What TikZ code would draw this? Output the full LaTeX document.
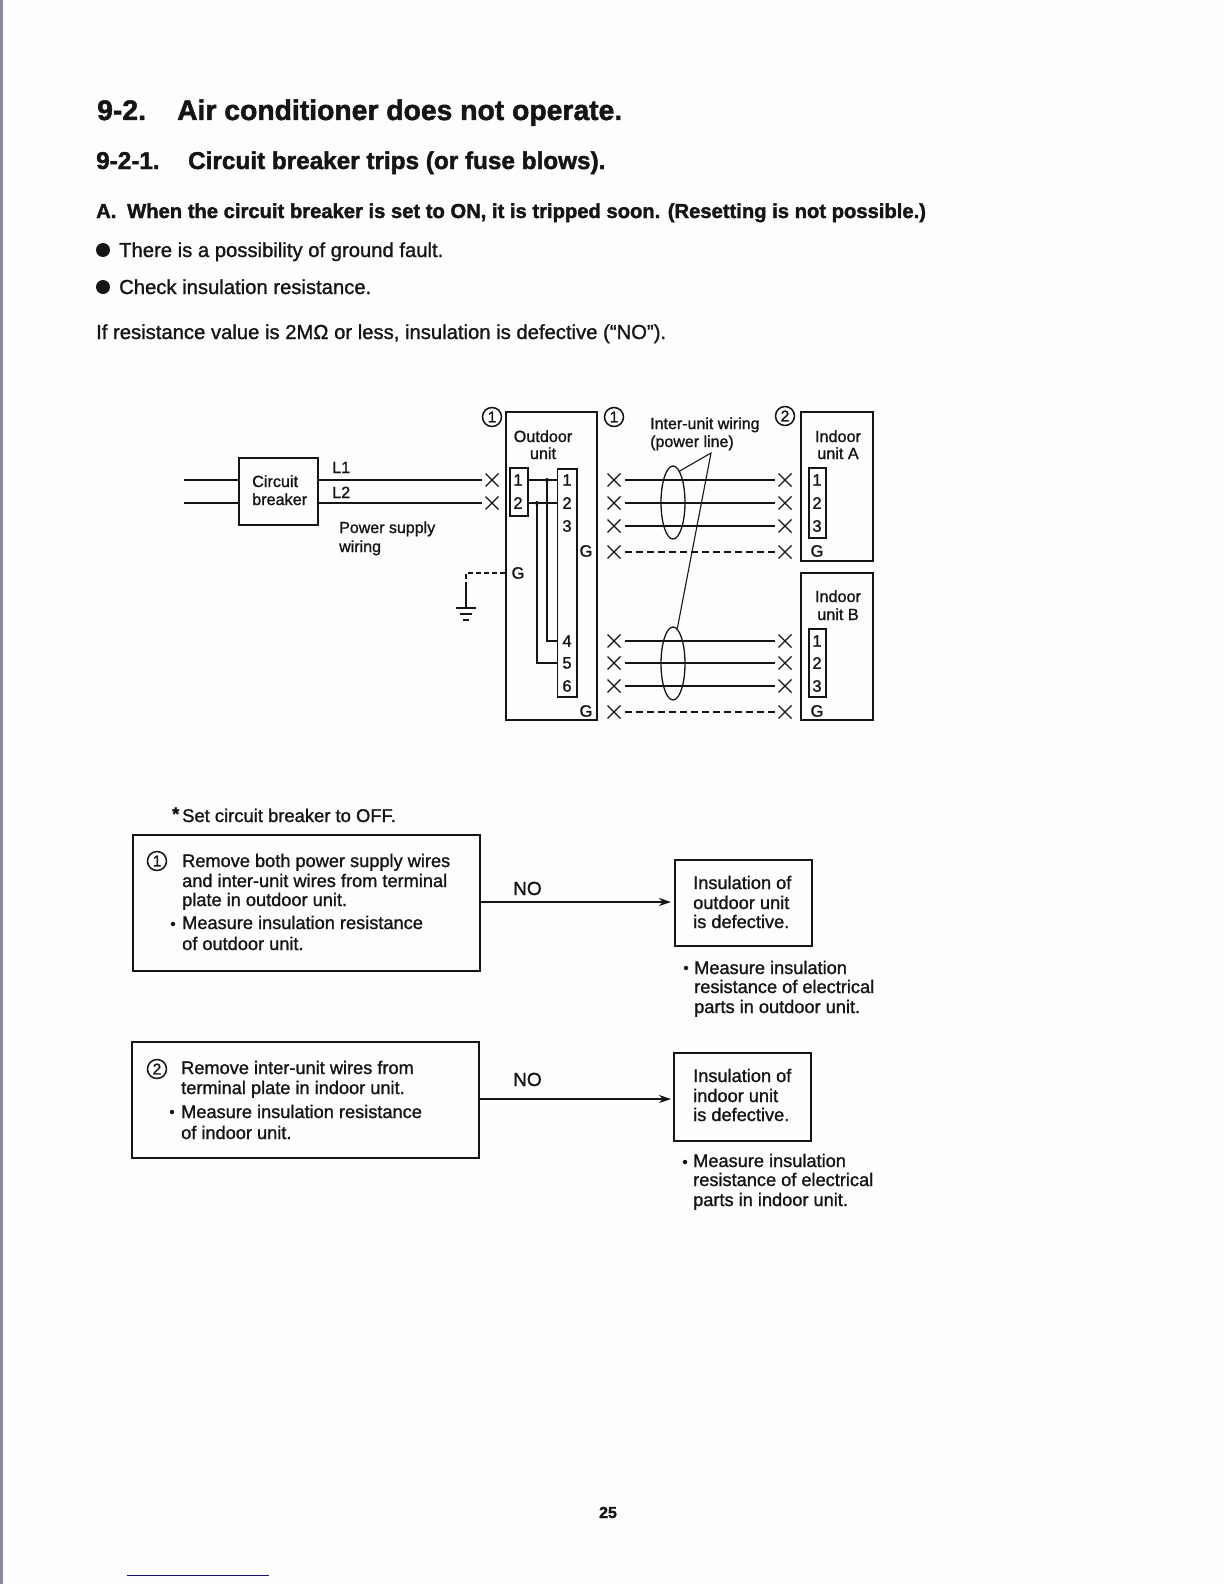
\documentclass[tikz,border=0pt]{standalone}
\usepackage{fontspec}
\setmainfont[FakeBold=1.2]{Liberation Sans}
\newfontfamily\hfont[BoldFeatures={FakeBold=1.7}]{Liberation Sans}
\usetikzlibrary{arrows.meta,shapes.misc,shapes.geometric}
\definecolor{paper}{HTML}{FEFDFE}
\definecolor{ink}{HTML}{151515}
\definecolor{strip}{HTML}{8C88A0}
\definecolor{navy}{HTML}{14147A}
\tikzset{
 txt/.style={anchor=base west,inner sep=0pt,text=ink,font=\fontsize{#1}{#1}\selectfont},
 txt/.default=18.2,
 ctxt/.style={anchor=base,inner sep=0pt,text=ink,font=\fontsize{16.2}{16.2}\selectfont},
 num/.style={inner sep=0pt,text=ink,font=\fontsize{16.5}{16.5}\selectfont},
 head/.style={anchor=base west,inner sep=0pt,text=ink,font=\hfont\bfseries\fontsize{#1}{#1}\selectfont},
 wire/.style={draw=ink,line width=1.1pt},
 dashw/.style={draw=ink,line width=1.1pt,dash pattern=on 7pt off 4pt},
 gapl/.style={shorten <=4pt,shorten >=4pt},
 gapr/.style={shorten >=4pt},
 boxa/.style={draw=ink,line width=1.3pt},
 boxb/.style={draw=ink,line width=2.2pt},
 xmark/.style={cross out,draw=ink,line width=1.3pt,minimum size=13pt,inner sep=0pt,outer sep=0pt},
 dot/.style={circle,fill=ink,inner sep=0pt,minimum size=4pt},
 bull/.style={circle,fill=ink,inner sep=0pt,minimum size=#1},
 circ/.style={circle,draw=ink,line width=1.5pt,inner sep=0pt,minimum size=19pt,text=ink,font=\fontsize{15.5}{15.5}\selectfont},
 arr/.style={draw=ink,line width=1.1pt,-{Stealth[length=12pt,width=8pt]}},
 ring/.style={draw=ink,line width=1.3pt,ellipse,inner sep=0pt,minimum width=24pt,minimum height=73pt},
}
\begin{document}
\begin{tikzpicture}[x=1pt,y=-1pt]
\useasboundingbox (0,0) rectangle (1224,1584);
\fill[paper] (0,0) rectangle (1224,1584);
\fill[strip] (0,0) rectangle (3,1584);
\draw[navy,line width=1pt] (127,1575) -- (269,1575);
% headings
\node[head=28.3] (h1a) at (97,120) {9-2.};
\node[head=28.3] (h1b) at (177,120) {Air conditioner does not operate.};
\node[head=24.3] (h2a) at (96,169) {9-2-1.};
\node[head=24.3] (h2b) at (188,169) {Circuit breaker trips (or fuse blows).};
\node[head=20.2] (h3a) at (96,218) {A.};
\node[head=20.2] (h3b) at (127,218) {When the circuit breaker is set to ON, it is tripped soon. (Resetting is not possible.)};
\node[bull=14pt] (b1) at (103,250) {};
\node[txt=20.25] (l1) at (119,257) {There is a possibility of ground fault.};
\node[bull=14pt] (b2) at (103,287) {};
\node[txt=20.25] (l2) at (119,294) {Check insulation resistance.};
\node[txt=20.25] (l3) at (96,339) {If resistance value is 2MΩ or less, insulation is defective (“NO”).};
% wiring boxes
\node[boxa,minimum width=79pt,minimum height=67pt] (cb) at (278.5,491.5) {};
\node[boxa,minimum width=91pt,minimum height=308pt] (odu) at (551.5,566) {};
\node[boxa,minimum width=72pt,minimum height=149pt] (ia) at (837,486.5) {};
\node[boxa,minimum width=72pt,minimum height=147pt] (ib) at (837,646.5) {};
\node[boxa,minimum width=18pt,minimum height=48pt] (t12) at (519,492) {};
\node[boxa,minimum width=19.5pt,minimum height=228pt] (t16) at (567.2,583) {};
\node[boxa,minimum width=17pt,minimum height=70pt] (ta) at (817.5,503) {};
\node[boxa,minimum width=17pt,minimum height=68pt] (tb) at (817.5,663) {};
\node[txt=16.2] (cbt1) at (252,487) {Circuit};
\node[txt=16.2] (cbt2) at (252,505) {breaker};
\node[txt=16.2] (L1) at (332,473) {L1};
\node[txt=16.2] (L2) at (332,498) {L2};
\node[txt=16] (ps1) at (339,533) {Power supply};
\node[txt=16] (ps2) at (339,552) {wiring};
\node[ctxt] (od1) at (543,442) {Outdoor};
\node[ctxt] (od2) at (543,459) {unit};
\node[txt=16] (iw1) at (650,429) {Inter-unit wiring};
\node[txt=16] (iw2) at (650,447) {(power line)};
\node[ctxt] (ia1) at (838,442) {Indoor};
\node[ctxt] (ia2) at (838,459) {unit A};
\node[ctxt] (ib1) at (838,602) {Indoor};
\node[ctxt] (ib2) at (838,620) {unit B};
\node[circ] (c1) at (492,417) {1};
\node[circ] (c2) at (614,417) {1};
\node[circ] (c3) at (785,416) {2};
% terminal numbers
\node[num] (p1) at (518,480) {1};
\node[num] (p2) at (518,503) {2};
\node[num] (q1) at (567,480) {1};
\node[num] (q2) at (567,503) {2};
\node[num] (q3) at (567,526) {3};
\node[num] (q4) at (567,641) {4};
\node[num] (q5) at (567,663) {5};
\node[num] (q6) at (567,686) {6};
\node[num] (ga) at (586,551) {G};
\node[num] (gb) at (586,711) {G};
\node[num] (gc) at (518,573) {G};
\node[num] (ra1) at (817,480) {1};
\node[num] (ra2) at (817,503) {2};
\node[num] (ra3) at (817,526) {3};
\node[num] (rag) at (817,551) {G};
\node[num] (rb1) at (817,641) {1};
\node[num] (rb2) at (817,663) {2};
\node[num] (rb3) at (817,686) {3};
\node[num] (rbg) at (817,711) {G};
% X marks
\node[xmark] (xl1) at (492,480) {};
\node[xmark] (xl2) at (492,503) {};
\foreach \n/\y in {1/480,2/503,3/526,4/552,5/641,6/663,7/686,8/712}{
  \node[xmark] (xa\n) at (614,\y) {};
  \node[xmark] (xb\n) at (785,\y) {};
}
% power lines
\coordinate (i1) at (184,480); \coordinate (i2) at (184,503);
\draw[wire] (i1) -- (cb.west |- i1);
\draw[wire] (i2) -- (cb.west |- i2);
\draw[wire,gapr] (cb.east |- xl1) -- (xl1.west);
\draw[wire,gapr] (cb.east |- xl2) -- (xl2.west);
% inner links
\node[dot] (j1) at (547,480) {};
\node[dot] (j2) at (537,503) {};
\draw[wire] (t12.east |- j1) -- (t16.west |- j1);
\draw[wire] (t12.east |- j2) -- (t16.west |- j2);
\draw[wire] (j1.center) -- (547,641) -- (t16.west |- q4);
\draw[wire] (j2.center) -- (537,663) -- (t16.west |- q5);
% inter-unit
\foreach \n in {1,2,3,5,6,7}{ \draw[wire,gapl] (xa\n.east) -- (xb\n.west); }
\foreach \n in {4,8}{ \draw[dashw,gapl] (xa\n.east) -- (xb\n.west); }
\node[ring] (e1) at (673,502.5) {};
\node[ring] (e2) at (673,663.5) {};
\coordinate (ld) at (711,453);
\draw[wire] (e1.78) -- (ld) -- (e2.83);
% ground
\coordinate (gk) at (466,573); \coordinate (gs) at (466,587); \coordinate (gt) at (466,608);
\draw[dashw,dash pattern=on 5pt off 3pt] (odu.west |- gk) -- (gk) -- (gs);
\draw[wire] (gs) -- (gt);
\draw[wire] (456,608) -- (476,608);
\draw[wire] (460,614) -- (472,614);
\draw[wire] (463,620) -- (469,620);
% procedure
\node[head=18] (st0) at (172,820) {*};
\node[txt=18.4] (st1) at (182,822) {Set circuit breaker to OFF.};
\node[boxb,minimum width=347pt,minimum height=136pt] (p1b) at (306.5,903) {};
\node[boxb,minimum width=347pt,minimum height=116pt] (p2b) at (305.5,1100) {};
\node[circ] (pc1) at (157,861) {1};
\node[circ] (pc2) at (157,1069) {2};
\node[txt] (a1) at (182,867) {Remove both power supply wires};
\node[txt] (a2) at (182,887) {and inter-unit wires from terminal};
\node[txt] (a3) at (182,906) {plate in outdoor unit.};
\node[bull=4.5pt] (a4b) at (173,924) {};
\node[txt] (a4) at (182,929) {Measure insulation resistance};
\node[txt] (a5) at (182,950) {of outdoor unit.};
\node[txt] (d1) at (181,1074) {Remove inter-unit wires from};
\node[txt] (d2) at (181,1094) {terminal plate in indoor unit.};
\node[bull=4.5pt] (d3b) at (172,1112) {};
\node[txt] (d3) at (181,1118) {Measure insulation resistance};
\node[txt] (d4) at (181,1139) {of indoor unit.};
\node[boxa,minimum width=137pt,minimum height=86pt] (r1) at (743.5,903) {};
\node[boxa,minimum width=137pt,minimum height=88pt] (r2) at (742.5,1097) {};
\node[txt] (e1a) at (693,889) {Insulation of};
\node[txt] (e1b) at (693,909) {outdoor unit};
\node[txt] (e1c) at (693,928) {is defective.};
\node[txt] (e2a) at (693,1082) {Insulation of};
\node[txt] (e2b) at (693,1102) {indoor unit};
\node[txt] (e2c) at (693,1121) {is defective.};
\node[bull=4.5pt] (m1b) at (686,968) {};
\node[txt] (m1a) at (694,974) {Measure insulation};
\node[txt] (m1c) at (694,993) {resistance of electrical};
\node[txt] (m1d) at (694,1013) {parts in outdoor unit.};
\node[bull=4.5pt] (m2b) at (685,1162) {};
\node[txt] (m2a) at (693,1167) {Measure insulation};
\node[txt] (m2c) at (693,1186) {resistance of electrical};
\node[txt] (m2d) at (693,1206) {parts in indoor unit.};
\node[txt=19] (no1) at (513,895) {NO};
\node[txt=19] (no2) at (513,1086) {NO};
\coordinate (k1) at (0,902); \coordinate (k2) at (0,1099);
\draw[arr] (p1b.east |- k1) -- (671,902);
\draw[arr] (p2b.east |- k2) -- (671,1099);
\node[head=16,anchor=base] (pg) at (608,1518) {25};
\end{tikzpicture}
\end{document}
